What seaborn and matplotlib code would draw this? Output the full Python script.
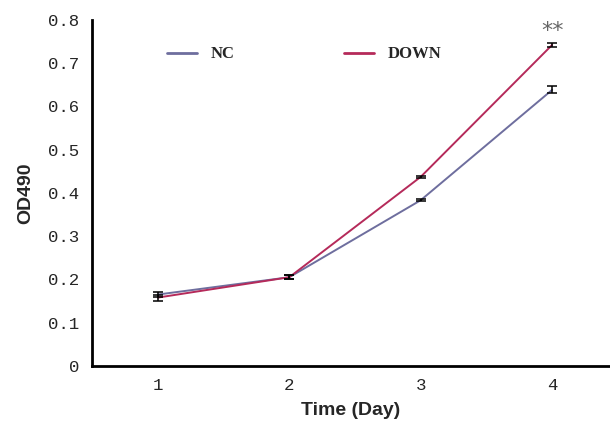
import matplotlib
matplotlib.use("Agg")
import matplotlib.pyplot as plt
import seaborn as sns
import pandas as pd
import numpy as np
from matplotlib.lines import Line2D

days = [1, 2, 3, 4]
nc_values = [0.165, 0.205, 0.383, 0.638]
nc_err = [0.006, 0.004, 0.002, 0.008]
down_values = [0.158, 0.205, 0.437, 0.742]
down_err = [0.007, 0.005, 0.003, 0.004]
y_ticks = [0, 0.1, 0.2, 0.3, 0.4, 0.5, 0.6, 0.7, 0.8]
y_tick_labels = ["0", "0.1", "0.2", "0.3", "0.4", "0.5", "0.6", "0.7", "0.8"]
nc_color = "#6e6e9e"
down_color = "#b52a5a"

df = pd.DataFrame({
    "Day": days * 2,
    "OD490": nc_values + down_values,
    "Group": ["NC"] * 4 + ["DOWN"] * 4,
})

sns.set_style("white")
fig = plt.figure(figsize=(6.1, 4.3), dpi=100)
ax = fig.add_axes([0.151, 0.149, 0.849, 0.805])

sns.lineplot(data=df, x="Day", y="OD490", hue="Group",
             palette={"NC": nc_color, "DOWN": down_color},
             linewidth=1.4, ax=ax, legend=False)

for vals, errs in [(nc_values, nc_err), (down_values, down_err)]:
    ax.errorbar(days, vals, yerr=errs, fmt="none", ecolor="black",
                elinewidth=1.1, capsize=3.5, capthick=1.1, zorder=5)

ax.set_xlim(0.5, 4.44)
ax.set_ylim(0, 0.8)
ax.set_yticks(y_ticks)
ax.set_yticklabels(y_tick_labels, family="Liberation Mono", fontsize=12.5)
ax.set_xticks([1.5, 2.5, 3.5])
ax.set_xticklabels([])
ax.set_xticks(days, minor=True)
ax.set_xticklabels([str(d) for d in days], minor=True,
                   family="Liberation Mono", fontsize=12.5)
ax.tick_params(axis="x", which="minor", length=0, pad=9)
ax.tick_params(axis="x", which="major", length=6, width=2, direction="out", color="black")
ax.tick_params(axis="y", length=5, width=2, direction="out", color="black", pad=4)

for s in ["top", "right"]:
    ax.spines[s].set_visible(False)
for s in ["left", "bottom"]:
    ax.spines[s].set_color("black")
    ax.spines[s].set_linewidth(2)

ax.set_xlabel("Time (Day)", family="Liberation Sans", fontweight="bold", fontsize=14, labelpad=6)
ax.set_ylabel("OD490", family="Liberation Sans", fontweight="bold", fontsize=14, labelpad=10)

handles = [Line2D([0], [0], color=nc_color, lw=2), Line2D([0], [0], color=down_color, lw=2)]
leg = ax.legend(handles, ["NC", "DOWN"], ncol=2, frameon=False,
                loc="center left", bbox_to_anchor=(0.116, 0.9),
                handlelength=1.8, handletextpad=0.8, columnspacing=6.6,
                prop={"family": "Liberation Serif", "weight": "bold", "size": 12})

ax.text(4.0, 0.752, "**", ha="center", va="bottom", fontsize=16,
        color="#666666", family="DejaVu Sans")

fig.savefig("out.png", dpi=100)
